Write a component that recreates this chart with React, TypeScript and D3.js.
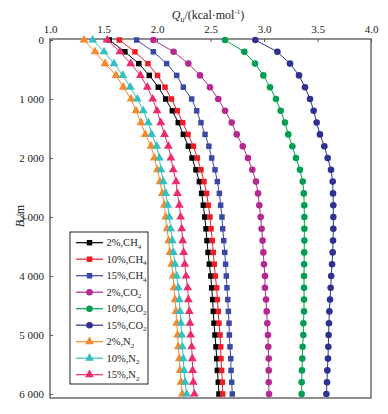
import { useEffect, useRef } from 'react';
import * as d3 from 'd3';

// depth in metres, one point every 200 m
const depths = d3.range(0, 6001, 200);

const ch4_2 = [1.554, 1.70, 1.83, 1.928, 2.012, 2.081, 2.143, 2.199, 2.246, 2.293, 2.327, 2.364, 2.396, 2.417, 2.433, 2.446, 2.458, 2.467, 2.477, 2.489, 2.503, 2.511, 2.520, 2.526, 2.533, 2.542, 2.551, 2.558, 2.564, 2.573, 2.579];
const ch4_10 = [1.648, 1.794, 1.915, 2.005, 2.075, 2.135, 2.19, 2.24, 2.29, 2.341, 2.377, 2.411, 2.439, 2.464, 2.480, 2.495, 2.505, 2.517, 2.526, 2.535, 2.545, 2.558, 2.564, 2.573, 2.579, 2.589, 2.595, 2.598, 2.604, 2.611, 2.614];
const ch4_15 = [1.81, 1.966, 2.09, 2.184, 2.246, 2.324, 2.371, 2.411, 2.449, 2.485, 2.511, 2.542, 2.564, 2.583, 2.595, 2.607, 2.614, 2.624, 2.633, 2.641, 2.648, 2.654, 2.661, 2.667, 2.673, 2.676, 2.682, 2.689, 2.692, 2.698, 2.704];
const co2_2 = [1.966, 2.155, 2.293, 2.402, 2.495, 2.573, 2.636, 2.698, 2.745, 2.801, 2.850, 2.891, 2.925, 2.944, 2.956, 2.969, 2.978, 2.987, 2.994, 3.000, 3.009, 3.009, 3.019, 3.025, 3.031, 3.037, 3.040, 3.044, 3.044, 3.044, 3.047];
const co2_10 = [2.636, 2.816, 2.916, 2.994, 3.056, 3.112, 3.156, 3.196, 3.227, 3.265, 3.299, 3.336, 3.362, 3.372, 3.376, 3.377, 3.377, 3.377, 3.376, 3.375, 3.374, 3.374, 3.374, 3.374, 3.368, 3.368, 3.361, 3.358, 3.355, 3.352, 3.352];
const co2_15 = [2.919, 3.125, 3.243, 3.327, 3.383, 3.430, 3.464, 3.492, 3.523, 3.564, 3.595, 3.626, 3.642, 3.645, 3.648, 3.648, 3.648, 3.645, 3.642, 3.636, 3.628, 3.623, 3.617, 3.611, 3.607, 3.604, 3.601, 3.598, 3.592, 3.589, 3.583];
const n2_2 = [1.318, 1.421, 1.514, 1.617, 1.685, 1.757, 1.804, 1.850, 1.891, 1.945, 1.975, 2.003, 2.028, 2.050, 2.069, 2.081, 2.093, 2.109, 2.121, 2.137, 2.150, 2.159, 2.168, 2.178, 2.184, 2.193, 2.199, 2.209, 2.215, 2.224, 2.237];
const n2_10 = [1.399, 1.505, 1.598, 1.68, 1.75, 1.816, 1.872, 1.919, 1.95, 1.997, 2.022, 2.037, 2.059, 2.081, 2.100, 2.115, 2.128, 2.143, 2.153, 2.168, 2.184, 2.199, 2.209, 2.215, 2.224, 2.231, 2.237, 2.246, 2.252, 2.262, 2.277];
const n2_15 = [1.536, 1.654, 1.754, 1.845, 1.91, 1.96, 2.00, 2.035, 2.07, 2.106, 2.13, 2.152, 2.178, 2.190, 2.209, 2.221, 2.231, 2.240, 2.249, 2.259, 2.271, 2.287, 2.293, 2.302, 2.308, 2.315, 2.324, 2.330, 2.333, 2.339, 2.349];

const seriesPct = ['2%', '10%', '15%', '2%', '10%', '15%', '2%', '10%', '15%'];
const seriesGas = ['CH', 'CH', 'CH', 'CO', 'CO', 'CO', 'N', 'N', 'N'];
const seriesSub = ['4', '4', '4', '2', '2', '2', '2', '2', '2'];
const seriesValues = [ch4_2, ch4_10, ch4_15, co2_2, co2_10, co2_15, n2_2, n2_10, n2_15];
const seriesColors = ['#000000', '#ee1c25', '#3a47a5', '#b5288f', '#00a050', '#2e3192', '#f7892b', '#33c0c0', '#ec2a6e'];
const seriesShapes = ['square', 'square', 'square', 'circle', 'circle', 'circle', 'triangle', 'triangle', 'triangle'];

const xTicks = [1.0, 1.5, 2.0, 2.5, 3.0, 3.5, 4.0];
const yTicks = [0, 1000, 2000, 3000, 4000, 5000, 6000];

const font = '"Liberation Serif", "Times New Roman", serif';

function App() {
  const gx = useRef<SVGGElement>(null);
  const gy = useRef<SVGGElement>(null);

  const width = 388;
  const height = 414;

  const left = 50;
  const right = 371;
  const top = 39;
  const bottom = 398;

  const xScale = d3.scaleLinear().domain([1, 4]).range([left, right]);
  const yScale = d3.scaleLinear().domain([0, 6000]).range([top + 1, 394]);

  const line = d3.line<number>()
    .x(d => xScale(d))
    .y((_, i) => yScale(depths[i]));

  const symbolType = (s: string) =>
    s === 'square' ? d3.symbolSquare : s === 'circle' ? d3.symbolCircle : d3.symbolTriangle;
  const symbolSize = (s: string) => (s === 'square' ? 30 : s === 'circle' ? 34 : 34);

  useEffect(() => {
    const g = d3.select(gx.current!);
    g.call(d3.axisTop(xScale).tickValues(xTicks).tickSize(-3).tickPadding(6).tickFormat(d3.format('.1f')) as any);
    g.select('.domain').remove();
    g.selectAll('text').attr('font-family', font).attr('font-size', 11).attr('fill', '#222');
    g.selectAll('line').attr('stroke', '#555');
  }, []);

  useEffect(() => {
    const g = d3.select(gy.current!);
    g.call(d3.axisLeft(yScale).tickValues(yTicks).tickSize(-3).tickPadding(6)
      .tickFormat(d => (+d === 0 ? '0' : `${+d / 1000} 000`)) as any);
    g.select('.domain').remove();
    g.selectAll('text').attr('font-family', font).attr('font-size', 11).attr('fill', '#222');
    g.selectAll('line').attr('stroke', '#555');
  }, []);

  const legendX = 70;
  const legendY = 232;
  const legendRow = 16.5;

  return (
    <svg width={width} height={height} style={{ position: 'absolute', left: 0, top: 0, background: '#fff' }}>
      <rect x={left} y={top} width={right - left} height={bottom - top} fill="none" stroke="#555" strokeWidth={1.3} />
      <g ref={gx} transform={`translate(0, ${top})`} />
      <g ref={gy} transform={`translate(${left}, 0)`} />

      <text x={208} y={19} textAnchor="middle" fontFamily={font} fontSize={12} fill="#222">
        <tspan fontStyle="italic">Q</tspan>
        <tspan dy={3} fontSize={8} fontStyle="italic">u</tspan>
        <tspan dy={-3}>/(kcal·mol</tspan>
        <tspan dy={-5} fontSize={7}>-1</tspan>
        <tspan dy={5}>)</tspan>
      </text>

      <text transform="translate(24, 216) rotate(-90)" textAnchor="middle" fontFamily={font} fontSize={12} fill="#222">
        <tspan fontStyle="italic">B</tspan>
        <tspan dy={3} fontSize={8} fontStyle="italic">t</tspan>
        <tspan dy={-3}>/m</tspan>
      </text>

      {seriesValues.map((vals, si) => (
        <g key={si}>
          <path d={line(vals) ?? ''} fill="none" stroke={seriesColors[si]} strokeWidth={1} />
          {vals.map((v, i) => (
            <path
              key={i}
              transform={`translate(${xScale(v)}, ${yScale(depths[i])})`}
              d={d3.symbol().type(symbolType(seriesShapes[si])).size(symbolSize(seriesShapes[si]))() ?? ''}
              fill={seriesColors[si]}
            />
          ))}
        </g>
      ))}

      <rect x={legendX} y={legendY} width={78} height={152} fill="#fff" stroke="#222" strokeWidth={1} />
      {seriesPct.map((p, i) => {
        const y = legendY + 10.7 + i * legendRow;
        return (
          <g key={i}>
            <line x1={legendX + 6} x2={legendX + 33} y1={y} y2={y} stroke={seriesColors[i]} strokeWidth={1.2} />
            <path
              transform={`translate(${legendX + 19.5}, ${y})`}
              d={d3.symbol().type(symbolType(seriesShapes[i])).size(symbolSize(seriesShapes[i]))() ?? ''}
              fill={seriesColors[i]}
            />
            <text x={legendX + 36.5} y={y + 3.5} fontFamily={font} fontSize={10.5} fill="#222">
              {`${p},${seriesGas[i]}`}
              <tspan dy={2.5} fontSize={7}>{seriesSub[i]}</tspan>
            </text>
          </g>
        );
      })}
    </svg>
  );
}

export default App;
